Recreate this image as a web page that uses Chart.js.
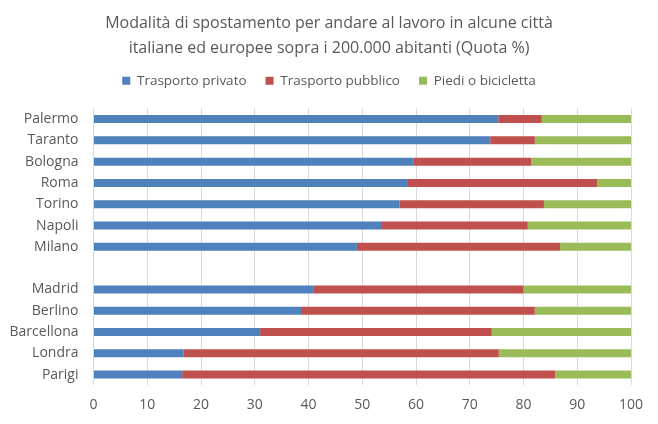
<!DOCTYPE html>
<html><head><meta charset="utf-8">
<script src="https://cdn.jsdelivr.net/npm/chart.js@4"></script>
<style>html,body{margin:0;padding:0;background:#fff}#wrap{width:658px;height:424px}</style>
</head><body><div id="wrap"><canvas id="c" width="658" height="424"></canvas></div>
<script>
const categories = ["Palermo","Taranto","Bologna","Roma","Torino","Napoli","Milano","","Madrid","Berlino","Barcellona","Londra","Parigi"];
const privato = [75.3,73.8,59.6,58.5,56.9,53.5,49.0,null,41.0,38.6,31.0,16.7,16.5];
const pubblico = [8.1,8.3,21.8,35.2,26.9,27.3,37.8,null,39.0,43.5,43.1,58.7,69.4];
const piedi = [16.6,17.9,18.6,6.3,16.2,19.2,13.2,null,20.0,17.9,25.9,24.6,14.1];
const seriesNames = ["Trasporto privato","Trasporto pubblico","Piedi o bicicletta"];
const xTicks = [0,10,20,30,40,50,60,70,80,90,100];
const titleLines = ["Modalità di spostamento per andare al lavoro in alcune città","italiane ed europee sopra i 200.000 abitanti (Quota %)"];

const FONT = "'Open Sans', 'Liberation Sans', sans-serif";
const TXT = "#595959";
const mk = (label, data, color) => ({label, data, backgroundColor: color, borderWidth: 0, barPercentage: 0.8, categoryPercentage: 0.47});
new Chart(document.getElementById('c'), {
  type: 'bar',
  data: {
    labels: categories,
    datasets: [
      mk(seriesNames[0], privato, '#4F81BD'),
      mk(seriesNames[1], pubblico, '#C0504D'),
      mk(seriesNames[2], piedi, '#9BBB59')
    ]
  },
  options: {
    indexAxis: 'y',
    responsive: false,
    animation: false,
    layout: {padding: {left: 0, right: 0, top: 11, bottom: 0}},
    plugins: {
      title: {display: true, text: titleLines, color: TXT, font: {family: FONT, size: 16, weight: 'normal', lineHeight: 1.56}, padding: {top: 0, bottom: -6}},
      legend: {display: true, labels: {boxWidth: 8, boxHeight: 8, color: TXT, font: {family: FONT, size: 13.5}, padding: 19}},
      tooltip: {enabled: false}
    },
    scales: {
      x: {
        stacked: true, min: 0, max: 100,
        afterBuildTicks: a => { a.ticks = xTicks.map(v => ({value: v})); },
        ticks: {color: TXT, font: {family: FONT, size: 14}, padding: 11},
        grid: {color: '#D9D9D9', drawTicks: false},
        border: {display: false}
      },
      x2: {
        type: 'linear', position: 'top', display: true,
        ticks: {display: false},
        grid: {display: false, drawTicks: false},
        border: {display: false},
        afterFit: s => { s.height = 11; }
      },
      y: {
        stacked: true,
        ticks: {color: TXT, font: {family: FONT, size: 14}, padding: 7},
        grid: {display: false},
        border: {display: false},
        afterFit: s => { s.width = 93.5; }
      },
      y2: {
        type: 'linear', position: 'right', display: true,
        ticks: {display: false},
        grid: {display: false, drawTicks: false},
        border: {display: false},
        afterFit: s => { s.width = 27; }
      }
    }
  }
});
</script></body></html>
